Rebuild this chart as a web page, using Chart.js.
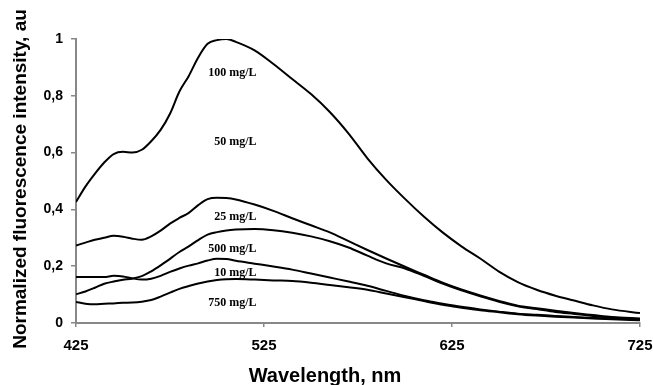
<!DOCTYPE html>
<html>
<head>
<meta charset="utf-8">
<script src="https://cdn.jsdelivr.net/npm/chart.js@4/dist/chart.umd.min.js"></script>
<style>
  html, body { margin: 0; padding: 0; background: #fff; }
  #wrap { width: 653px; height: 385px; }
</style>
</head>
<body>
<div id="wrap"><canvas id="c" width="653" height="385"></canvas></div>
<script>
// Wavelength grid (nm)
const wavelengths = [425,430,435,440,445,450,455,460,465,470,475,480,485,490,495,500,505,510,520,530,540,550,560,570,580,590,600,610,620,630,640,650,660,670,680,690,700,710,725];

// Normalized fluorescence intensity
const seriesTop = [0.426,0.480,0.525,0.565,0.595,0.603,0.600,0.610,0.640,0.680,0.737,0.815,0.870,0.935,0.983,0.996,1.000,0.990,0.960,0.912,0.859,0.806,0.743,0.667,0.580,0.504,0.437,0.375,0.319,0.270,0.227,0.181,0.144,0.117,0.096,0.079,0.062,0.048,0.035];
const seriesSecond = [0.273,0.283,0.293,0.300,0.307,0.304,0.297,0.293,0.305,0.325,0.350,0.370,0.388,0.415,0.436,0.441,0.440,0.435,0.417,0.395,0.369,0.344,0.319,0.288,0.257,0.227,0.198,0.170,0.142,0.118,0.097,0.078,0.061,0.052,0.043,0.035,0.028,0.021,0.016];
const seriesThird = [0.101,0.111,0.124,0.138,0.146,0.152,0.157,0.165,0.182,0.203,0.226,0.250,0.270,0.292,0.311,0.320,0.326,0.329,0.331,0.327,0.318,0.305,0.288,0.266,0.237,0.210,0.192,0.166,0.139,0.115,0.094,0.075,0.059,0.049,0.039,0.032,0.025,0.019,0.013];
const seriesFourth = [0.162,0.162,0.162,0.162,0.166,0.164,0.157,0.153,0.156,0.166,0.180,0.192,0.202,0.210,0.220,0.226,0.225,0.219,0.209,0.199,0.188,0.174,0.160,0.146,0.131,0.113,0.095,0.080,0.068,0.057,0.048,0.040,0.033,0.029,0.025,0.021,0.018,0.016,0.012];
const seriesFifth = [0.074,0.068,0.066,0.068,0.069,0.071,0.072,0.075,0.081,0.093,0.107,0.120,0.130,0.139,0.146,0.151,0.154,0.155,0.153,0.150,0.148,0.142,0.134,0.126,0.117,0.104,0.091,0.077,0.064,0.054,0.045,0.038,0.031,0.026,0.022,0.019,0.016,0.013,0.010];

// Axis ticks
const xTicks = [425, 525, 625, 725];
const yTicks = [0, 0.2, 0.4, 0.6, 0.8, 1];

// Axis titles
const xTitle = 'Wavelength, nm';
const yTitle = 'Normalized fluorescence intensity, au';

// In-plot concentration labels (text, wavelength anchor, intensity anchor)
const labelTexts = ["100 mg/L", "50 mg/L", "25 mg/L", "500 mg/L", "10 mg/L", "750 mg/L"];
const labelX = [521, 521, 521, 521, 521, 521];
const labelY = [0.880, 0.637, 0.373, 0.262, 0.177, 0.070];

const allSeries = [seriesTop, seriesSecond, seriesThird, seriesFourth, seriesFifth];

const datasets = allSeries.map(s => ({
  data: wavelengths.map((w, i) => ({ x: w, y: s[i] })),
  borderColor: '#000',
  borderWidth: 2,
  pointRadius: 0,
  fill: false,
  cubicInterpolationMode: 'monotone'
}));

const sansBold = '"Liberation Sans", Arial, sans-serif';

const labelPlugin = {
  id: 'curveLabels',
  afterDatasetsDraw(chart) {
    const { ctx, scales: { x, y } } = chart;
    ctx.save();
    ctx.font = 'bold 12px "Liberation Serif", "Times New Roman", serif';
    ctx.fillStyle = '#000';
    ctx.textAlign = 'right';
    ctx.textBaseline = 'middle';
    labelTexts.forEach((t, i) => {
      ctx.fillText(t, x.getPixelForValue(labelX[i]), y.getPixelForValue(labelY[i]));
    });
    ctx.restore();
  }
};

const titlePlugin = {
  id: 'axisTitles',
  afterDraw(chart) {
    const { ctx } = chart;
    ctx.save();
    ctx.fillStyle = '#000';
    ctx.textAlign = 'center';
    ctx.textBaseline = 'middle';
    ctx.font = 'bold 20px ' + sansBold;
    ctx.fillText(xTitle, 325, 376);
    ctx.translate(21, 179);
    ctx.rotate(-Math.PI / 2);
    ctx.font = 'bold 19px ' + sansBold;
    ctx.fillText(yTitle, 0, 0);
    ctx.restore();
  }
};

const axisGray = '#888888';

new Chart(document.getElementById('c'), {
  type: 'line',
  data: { datasets },
  plugins: [labelPlugin, titlePlugin],
  options: {
    responsive: false,
    animation: false,
    layout: { padding: { top: 39, right: 13, left: 0, bottom: 0 } },
    plugins: { legend: { display: false }, tooltip: { enabled: false } },
    scales: {
      x: {
        type: 'linear',
        min: 425,
        max: 725,
        afterBuildTicks(scale) { scale.ticks = xTicks.map(v => ({ value: v })); },
        afterFit(scale) { scale.height = 62; scale.paddingRight = 0; scale.paddingLeft = 0; },
        grid: { display: true, drawOnChartArea: false, drawTicks: true, tickLength: 4, color: axisGray, lineWidth: 1.5 },
        border: { display: true, color: axisGray, width: 2 },
        ticks: {
          color: '#000',
          padding: 10,
          maxRotation: 0,
          font: { family: sansBold, weight: 'bold', size: 15 },
          callback: v => String(v)
        },
        title: { display: false }
      },
      y: {
        type: 'linear',
        min: 0,
        max: 1,
        afterBuildTicks(scale) { scale.ticks = yTicks.map(v => ({ value: v })); },
        afterFit(scale) { scale.width = 76; scale.paddingTop = 0; scale.paddingBottom = 0; },
        grid: { display: true, drawOnChartArea: false, drawTicks: true, tickLength: 5, color: axisGray, lineWidth: 1.5 },
        border: { display: true, color: axisGray, width: 2 },
        ticks: {
          color: '#000',
          padding: 8,
          font: { family: sansBold, weight: 'bold', size: 14 },
          callback: v => String(Math.round(v * 10) / 10).replace('.', ',')
        },
        title: { display: false }
      }
    }
  }
});
</script>
</body>
</html>
